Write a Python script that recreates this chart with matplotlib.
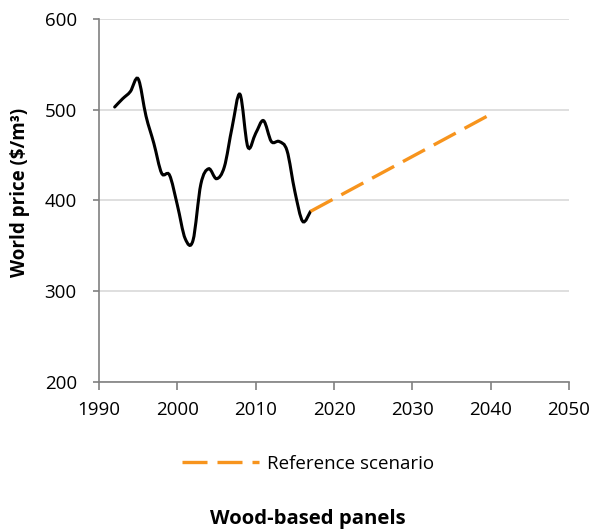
import numpy as np
import matplotlib
matplotlib.use("Agg")
import matplotlib.pyplot as plt
from matplotlib.path import Path
from matplotlib.patches import PathPatch
from matplotlib.lines import Line2D

plt.rcParams['font.family'] = ['Open Sans', 'DejaVu Sans']

# historical world price, wood-based panels
years = [1992, 1993, 1994, 1995, 1996, 1997, 1998, 1999, 2000, 2001, 2002, 2003, 2004,
         2005, 2006, 2007, 2008, 2009, 2010, 2011, 2012, 2013, 2014, 2015, 2016, 2017]
price = [503, 512, 520, 534, 493, 463, 430, 428, 395, 358, 356, 418, 435,
         424, 437, 481, 517, 459, 474, 488, 465, 465, 455, 410, 377, 388]

# reference scenario projection
proj_years = [2017, 2040]
proj_price = [388, 495]

orange = '#F7941D'
axis_grey = '#808080'

fig = plt.figure(figsize=(5.95, 5.3), dpi=100)
ax = fig.add_axes([0.1664, 0.2792, 0.7899, 0.685])

# smoothed line (Catmull-Rom -> cubic Bezier, like Excel's smoothed line)
x = np.array(years, dtype=float)
y = np.array(price, dtype=float)
verts = [(x[0], y[0])]
codes = [Path.MOVETO]
for i in range(len(x) - 1):
    x0, y0 = (x[i - 1], y[i - 1]) if i > 0 else (x[i], y[i])
    x3, y3 = (x[i + 2], y[i + 2]) if i + 2 < len(x) else (x[i + 1], y[i + 1])
    c1 = (x[i] + (x[i + 1] - x0) / 6, y[i] + (y[i + 1] - y0) / 6)
    c2 = (x[i + 1] - (x3 - x[i]) / 6, y[i + 1] - (y3 - y[i]) / 6)
    verts += [c1, c2, (x[i + 1], y[i + 1])]
    codes += [Path.CURVE4] * 3
ax.add_patch(PathPatch(Path(verts, codes), facecolor='none', edgecolor='black',
                       lw=2.2, zorder=3, capstyle='round'))

ax.plot(proj_years, proj_price, color=orange, lw=2.4, dashes=(7.5, 3), zorder=4)

ax.set_xlim(1990, 2050)
ax.set_ylim(200, 600)
ax.set_xticks(range(1990, 2051, 10))
ax.set_yticks(range(200, 601, 100))
ax.yaxis.grid(True, color='#D9D9D9', lw=1.2)
ax.set_axisbelow(True)
for s in ['top', 'right']:
    ax.spines[s].set_visible(False)
for s in ['left', 'bottom']:
    ax.spines[s].set_color(axis_grey)
    ax.spines[s].set_linewidth(1.2)
ax.tick_params(axis='both', direction='out', width=1.2, color=axis_grey, labelsize=13.5)
ax.tick_params(axis='x', length=5.8, pad=8)
ax.tick_params(axis='y', length=4, pad=12)
ax.set_ylabel('World price ($/m\u00b3)', fontsize=13.5, fontweight='bold')
ax.yaxis.set_label_coords(-0.147, 0.522)

handle = Line2D([], [], color=orange, lw=2.4, dashes=(7.5, 3))
fig.legend([handle], ['Reference scenario'], loc='center', bbox_to_anchor=(0.518, 0.1245),
           frameon=False, fontsize=13.5, handlelength=4.1, handletextpad=0.45)

fig.text(0.518, 0.012, 'Wood-based panels', ha='center', va='baseline',
         fontsize=14.6, fontweight='bold')

fig.savefig('out.png', dpi=100)
